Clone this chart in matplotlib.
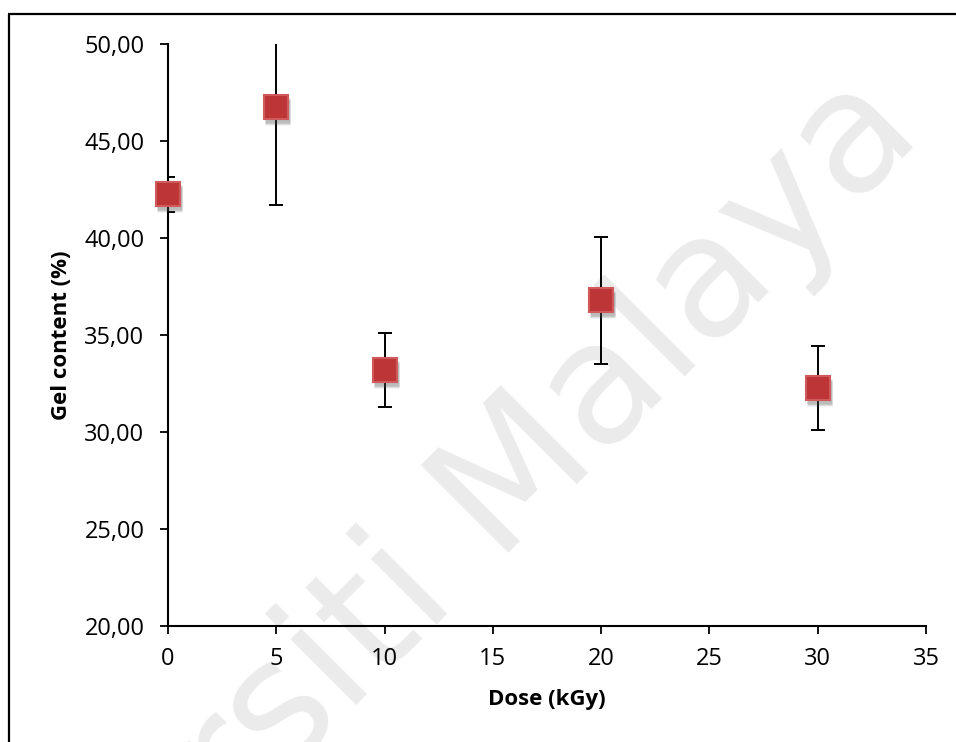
import matplotlib.pyplot as plt
import matplotlib.transforms as mtransforms
from matplotlib.lines import Line2D

# Data
dose = [0, 5, 10, 20, 30]
gel_content = [42.25, 46.75, 33.20, 36.80, 32.27]
gel_error = [0.90, 5.05, 1.90, 3.27, 2.15]
x_ticks = [0, 5, 10, 15, 20, 25, 30, 35]
y_ticks = [20, 25, 30, 35, 40, 45, 50]

plt.rcParams['font.family'] = ['Open Sans', 'DejaVu Sans']

fig = plt.figure(figsize=(9.56, 7.42), dpi=100)
ax = fig.add_axes([168 / 956, 1 - 626 / 742, 758 / 956, 582 / 742])
ax.patch.set_alpha(0)
ax.set_zorder(2)

# outer frame (only left and top edges are visible in the picture)
fig.add_artist(Line2D([9 / 956, 9 / 956], [1 - 13.5 / 742, -0.01],
                      transform=fig.transFigure, color='black', lw=1.6,
                      solid_capstyle='butt'))
fig.add_artist(Line2D([8 / 956, 1.01], [1 - 13.5 / 742, 1 - 13.5 / 742],
                      transform=fig.transFigure, color='black', lw=1.6,
                      solid_capstyle='butt'))

# watermark, behind the chart
fig.text(925 / 956, 1 - 137 / 742, 'Universiti Malaya', rotation=45,
         rotation_mode='anchor', ha='right', va='baseline',
         fontsize=122, color='#ebebeb', family='DejaVu Sans', zorder=-1)

# error bars
ax.errorbar(dose, gel_content, yerr=gel_error, fmt='none', ecolor='black',
            elinewidth=1.4, capsize=5, capthick=1.4, zorder=3)

# soft marker shadow, then markers
for dx, dy, a in [(1, -5, 0.12), (1, -4, 0.15), (1, -3, 0.18)]:
    shadow = mtransforms.offset_copy(ax.transData, fig=fig, x=dx, y=dy, units='dots')
    ax.plot(dose, gel_content, 's', ms=18, color='#555555', alpha=a,
            mec='none', transform=shadow, zorder=4, clip_on=False)
ax.plot(dose, gel_content, 's', ms=17, mfc='#bd3537', mec='#d05a5b',
        mew=1.5, ls='none', zorder=5, clip_on=False)

ax.set_xlim(0, 35)
ax.set_ylim(20, 50)
ax.set_xticks(x_ticks)
ax.set_yticks(y_ticks)
ax.set_yticklabels([f'{v:.2f}'.replace('.', ',') for v in y_ticks])

for side in ['top', 'right']:
    ax.spines[side].set_visible(False)
for side in ['left', 'bottom']:
    ax.spines[side].set_linewidth(1.5)

ax.tick_params(axis='both', direction='out', length=6, width=1.3,
               labelsize=17, colors='black')
ax.tick_params(axis='y', pad=11)
ax.tick_params(axis='x', pad=9)

ax.set_xlabel('Dose (kGy)', fontsize=16, fontweight='bold', labelpad=13)
ax.set_ylabel('Gel content (%)', fontsize=16, fontweight='bold', labelpad=9)

fig.savefig('out.png', dpi=100)
